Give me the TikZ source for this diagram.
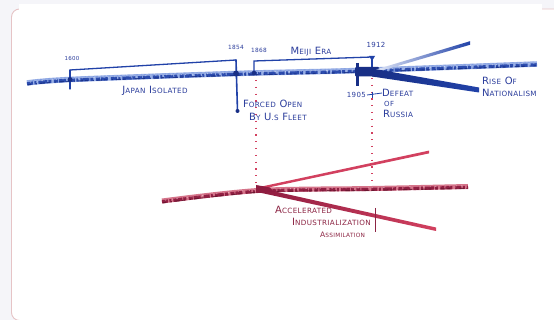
\documentclass[tikz,border=0pt]{standalone}
\usepackage{fontspec}
\setmainfont{DejaVu Sans}[LetterSpace=5]
\usetikzlibrary{arrows.meta}
\definecolor{bg}{HTML}{F5F5F9}
\definecolor{cardb}{HTML}{E6C4C6}
\definecolor{pen}{HTML}{2142A8}
\definecolor{pendk}{HTML}{182F86}
\definecolor{penlt}{HTML}{7F9BE0}
\definecolor{txtb}{HTML}{2B3D9C}
\definecolor{rpen}{HTML}{8E1C40}
\definecolor{rlt}{HTML}{D2405F}
\definecolor{txtr}{HTML}{8C2443}
\newcommand\hsc[2]{{\fontsize{10}{10}\selectfont #1}{\fontsize{7.2}{7}\selectfont #2}}
\tikzset{
  btxt/.style={text=txtb, inner sep=0pt},
  rtxt/.style={text=txtr, inner sep=0pt},
  bline/.style={draw=pen, line width=1.3pt, line cap=round},
  rdot/.style={draw=rlt, line width=1.3pt, dash pattern=on 1.3pt off 5.5pt},
}
\begin{document}
\begin{tikzpicture}[x=1pt,y=-1pt]
\useasboundingbox (0,0) rectangle (554,320);
\fill[bg] (0,0) rectangle (554,320);
\draw[cardb, fill=white, line width=0.9pt, rounded corners=8pt] (11.5,9) rectangle (600,320.5);
\fill[white] (19,4) rectangle (542,12);

% ---------- blue timeline ----------
\coordinate (bL) at (27,83);
\coordinate (bR) at (537,64);
\draw[penlt, line width=5.5pt, opacity=.8] plot[smooth] coordinates {(27,83) (70,79.5) (236,73.5) (358,70.5) (537,64)};
\draw[pen, line width=3.2pt, opacity=.9, dash pattern=on 6pt off 1.5pt on 2pt off 2pt on 9pt off 1pt on 3pt off 2.5pt on 4pt off 1pt on 7pt off 3pt]
  plot[smooth] coordinates {(27,83.8) (70,80.3) (236,74.3) (358,71.3) (537,64.8)};
\draw[white, line width=0.9pt, opacity=.45, dash pattern=on 1pt off 6pt on 0.6pt off 4pt on 1.5pt off 9pt on 0.8pt off 3pt]
  plot[smooth] coordinates {(30,82.2) (70,78.7) (236,72.7) (358,69.7) (534,63.2)};
\draw[pendk, line width=1.1pt, opacity=.85, dash pattern=on 3pt off 5pt on 1pt off 3pt on 5pt off 2pt]
  plot[smooth] coordinates {(28,84.8) (70,81.3) (236,75.3) (358,72.3) (536,65.8)};
\draw[penlt, line width=0.8pt, opacity=.9, dash pattern=on 1pt off 2pt on 2pt off 3pt]
  plot[smooth] coordinates {(29,81) (70,77.5) (236,71.5) (358,68.5) (535,62)};

% ticks and brackets
\coordinate (a1600t) at (70,70);
\coordinate (a1600) at (70,79.5);
\coordinate (a1600b) at (70,89);
\coordinate (a1854t) at (236,60);
\coordinate (a1854) at (236,73.5);
\coordinate (a1854b) at (237.5,111);
\coordinate (a1868b) at (254,75);
\coordinate (a1868t) at (254,61);
\coordinate (a1868) at (254,73);
\coordinate (a1912t) at (372,57);
\coordinate (a1912b) at (372,71);
\draw[bline] (a1600t) -- (a1600b);
\fill[pendk] (a1600) circle (2.5pt);
\draw[bline] (a1600t) -- (a1854t);
\draw[bline, line width=1.6pt] (a1854t) -- (a1854b);
\fill[pendk] (a1854) circle (3pt);
\fill[pendk] (a1854b) circle (2pt);
\draw[bline] (a1868b) -- (a1868t) -- (a1912t);
\fill[pendk] (a1868) circle (2.3pt);
\draw[bline, line width=1.8pt] (a1912t) -- (a1912b);
\fill[pen] (369,56) -- (375,56) -- (372,61) -- cycle;

% 1905 and block
\coordinate (a1905t) at (357.5,63);
\coordinate (a1905b) at (357.5,86);
\draw[pendk, line width=2.8pt] (a1905t) -- (a1905b);
\fill[pendk, rounded corners=1pt] (355,67) rectangle (379,76.5);

% fans
\shade[left color=penlt!25, right color=pen] (376,69.5) -- (470,41.2) -- (470,44.8) -- (377,72) -- cycle;
\shade[left color=pendk, right color=pen] (372,68.5) -- (479,87.5) -- (479,92.5) -- (372,76.5) -- cycle;

% ---------- red dotted guides ----------
\coordinate (g1t) at (256,80);
\coordinate (g1b) at (256,186);
\coordinate (g2t) at (372,78);
\coordinate (g2b) at (372,186);
\draw[rdot] (g1t) -- (g1b);
\draw[rdot] (g2t) -- (g2b);

% ---------- red timeline ----------
\coordinate (rL) at (162,201);
\coordinate (rR) at (468,186.5);
\draw[rlt!80!rpen, line width=5pt, opacity=.7] plot[smooth] coordinates {(162,201) (258,190.5) (372,188.5) (468,186.5)};
\draw[rpen, line width=3.2pt, opacity=.95, dash pattern=on 6pt off 1.5pt on 2pt off 2pt on 9pt off 1pt on 3pt off 2.5pt on 4pt off 1pt on 7pt off 3pt]
  plot[smooth] coordinates {(162,201.8) (258,191.3) (372,189.3) (468,187.3)};
\draw[white, line width=0.9pt, opacity=.4, dash pattern=on 1pt off 6pt on 0.6pt off 4pt on 1.5pt off 9pt on 0.8pt off 3pt]
  plot[smooth] coordinates {(165,200.2) (258,189.7) (372,187.7) (466,185.7)};
\draw[rpen!70!black, line width=1pt, opacity=.8, dash pattern=on 3pt off 5pt on 1pt off 3pt on 5pt off 2pt]
  plot[smooth] coordinates {(163,202.8) (258,192.3) (372,190.3) (467,188.3)};

% red fans
\coordinate (rO) at (258,189);
\shade[left color=rlt, middle color=rlt!30, right color=rlt] (257,187.5) -- (429,150.6) -- (429,153.4) -- (259,189.5) -- cycle;
\shade[left color=rpen, middle color=rlt!55, right color=rlt] (257,187.5) -- (436,227.5) -- (436,231) -- (257,192) -- cycle;
\fill[rpen] (256,185) -- (270,187.5) -- (274,192) -- (256,193) -- cycle;

% ---------- texts ----------
\node[btxt] (t1600) at (72,59) {\fontsize{5.5}{5}\selectfont 1600};
\node[btxt] (t1854) at (236,47.5) {\fontsize{5.8}{5}\selectfont 1854};
\node[btxt] (t1868) at (259,50) {\fontsize{5.8}{5}\selectfont 1868};
\node[btxt] (t1912) at (376,45) {\fontsize{7}{6}\selectfont 1912};
\node[btxt] (meiji) at (311,52) {\hsc{M}{EIJI} \hsc{E}{RA}};
\node[btxt] (japan) at (155,91) {\hsc{J}{APAN} \hsc{I}{SOLATED}};
\node[btxt, anchor=west] (forced) at (243,104) {\hsc{F}{ORCED} \hsc{O}{PEN}};
\node[btxt, anchor=west] (fleet) at (249,117) {\hsc{B}{Y} \hsc{U}{.S} \hsc{F}{LEET}};
\node[btxt, anchor=east] (t1905) at (366,95) {\fontsize{7}{6}\selectfont 1905};
\node[btxt, anchor=west] (defeat) at (382,93) {\hsc{D}{EFEAT}};
\node[btxt, anchor=west] (of) at (384,104) {\fontsize{7}{6}\selectfont OF};
\node[btxt, anchor=west] (russia) at (383,114) {\hsc{R}{USSIA}};
\draw[pen, line width=0.8pt] (t1905.east) ++(1,0) -- (defeat.west);
\draw[pen, line width=0.8pt] (372,92) -- (372,98);
\node[btxt, anchor=west] (rise) at (482,81) {\hsc{R}{ISE} \hsc{O}{F}};
\node[btxt, anchor=west] (nation) at (482,93) {\hsc{N}{ATIONALISM}};

\node[rtxt, anchor=west] (accel) at (275,210) {\hsc{A}{CCELERATED}};
\node[rtxt, anchor=west] (indus) at (292,222) {\hsc{I}{NDUSTRIALIZATION}};
\node[rtxt, anchor=west] (assim) at (320,235) {{\fontsize{7.5}{6}\selectfont A}{\fontsize{5.8}{5}\selectfont SSIMILATION}};
\coordinate (barT) at (375,208);
\coordinate (barB) at (375,232);
\draw[txtr, line width=0.8pt] (barT) -- (barB);
\end{tikzpicture}
\end{document}
